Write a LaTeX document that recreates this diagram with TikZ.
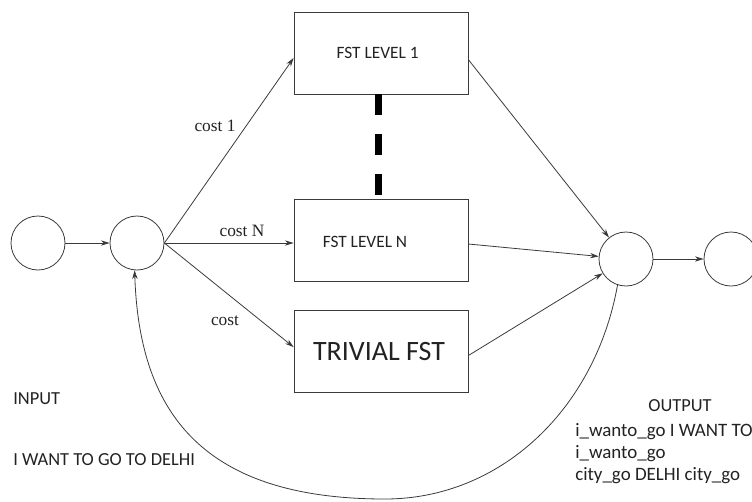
\documentclass[tikz,border=0pt]{standalone}
\usepackage{fontspec}
\usetikzlibrary{arrows.meta,positioning}
\newfontfamily\calibfont{Carlito}
\newfontfamily\serfont{Liberation Serif}
\definecolor{Ink}{HTML}{222222}
\definecolor{Wire}{HTML}{3A3A3A}
\tikzset{
    every node/.style={text=Ink},
    statenode/.style={
        circle, draw=Wire, line width=0.6pt, minimum size=40.5pt, inner sep=0pt
    },
    fstbox/.style={
        draw=Wire, line width=0.6pt, minimum width=130.5pt, minimum height=61.5pt,
        sharp corners, inner sep=0pt, font=\calibfont\fontsize{13}{15}\selectfont
    },
    flow/.style={
        -{Stealth[length=6.5pt,width=4pt]}, draw=Wire, line width=0.6pt
    },
    costlabel/.style={font=\serfont\fontsize{13}{15}\selectfont},
    plaintext/.style={font=\calibfont\fontsize{13.8}{16.5}\selectfont, inner sep=0pt},
}

\begin{document}
\begin{tikzpicture}[x=0.75pt, y=-0.75pt]
    \useasboundingbox (0,0) rectangle (752,501);

    % States
    \node[statenode] (start) at (38,243) {};
    \node[statenode] (split) at (137,243) {};
    \node[statenode] (merge) at (626,259) {};
    \node[statenode] (final) at (731,259) {};

    % FST blocks
    \node[fstbox] (lvlone) at (381,53) {\hspace*{-5pt}FST LEVEL 1};
    \node[fstbox] (lvln) at (381,240) {};
    \node[plaintext, font=\calibfont\fontsize{13}{15}\selectfont] (lvlntext) at (365,242) {FST LEVEL N};
    \node[fstbox, font=\calibfont\fontsize{21}{24}\selectfont] (trivial) at (381,351.5) {\hspace*{-3pt}TRIVIAL FST};

    % Levels in between
    \draw[line width=5.25pt, dash pattern=on 15.75pt off 14.25pt]
        ([xshift=-2.25pt]lvlone.south) -- ([xshift=-2.25pt]lvln.north);

    % Connectors
    \draw[flow] (start) -- (split);
    \draw[flow] (split.east) -- ([yshift=-3.75pt]lvlone.west);
    \draw[flow] (split.east) -- ([yshift=-2.25pt]lvln.west);
    \draw[flow] (split.east) -- ([yshift=3.3pt]trivial.west);
    \draw[flow] ([yshift=-5pt]lvlone.east) -- (merge);
    \draw[flow] ([yshift=-3pt]lvln.east) -- (merge);
    \draw[flow] ([yshift=-3pt]trivial.east) -- (merge);
    \draw[flow] (merge) -- (final);

    % Feedback loop
    \coordinate (loopbot) at (385,499);
    \draw[flow] (merge.252) .. controls (595,410) and (500,499) .. (loopbot)
        .. controls (195,499) and (139,405) .. (split.265);

    % Costs
    \node[costlabel] (costone) at (215,126) {cost 1};
    \node[costlabel] (costn) at (242,231) {cost N};
    \node[costlabel] (costt) at (225,321) {cost};

    % Input and output
    \node[plaintext, anchor=west] (inlabel) at (13,399) {INPUT};
    \node[plaintext, anchor=west] (insent) at (13,460) {I WANT TO GO TO DELHI};
    \node[plaintext] (outlabel) at (680,406) {OUTPUT};
    \node[plaintext, anchor=north west, align=left, font=\calibfont\fontsize{14.2}{16.5}\selectfont]
        (outsent) at (575,423) {i\_wanto\_go I WANT TO\\i\_wanto\_go\\city\_go DELHI city\_go};
\end{tikzpicture}
\end{document}
